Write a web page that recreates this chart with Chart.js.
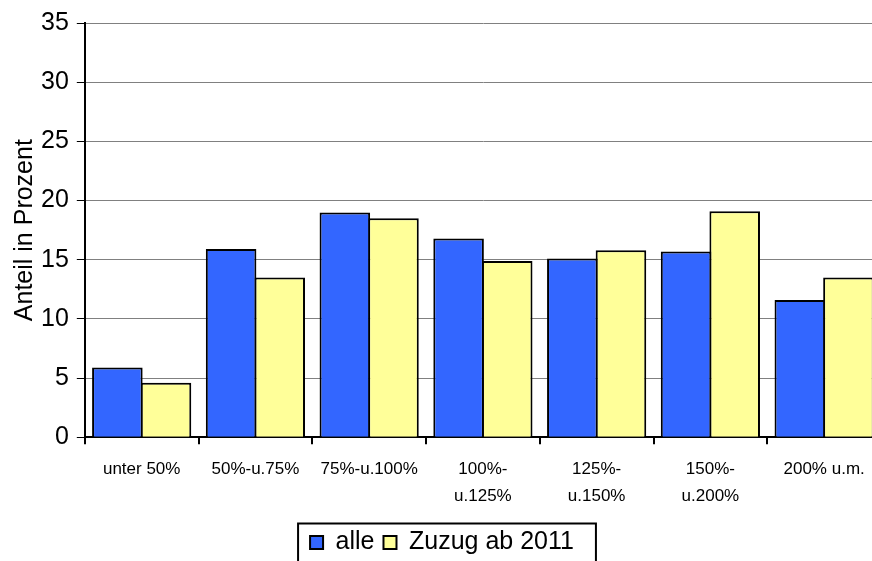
<!DOCTYPE html>
<html>
<head>
<meta charset="utf-8">
<script src="https://cdn.jsdelivr.net/npm/chart.js@4"></script>
<style>
  html, body { margin: 0; padding: 0; overflow: hidden; background: #fff; }
  #wrap { width: 895px; height: 561px; position: relative; }
</style>
</head>
<body>
<div id="wrap"><canvas id="einkommenChart"></canvas></div>
<script>
const categories = [
    "unter 50%",
    "50%-u.75%",
    "75%-u.100%",
    ["100%-", "u.125%"],
    ["125%-", "u.150%"],
    ["150%-", "u.200%"],
    "200% u.m."
];
const alle = [5.9, 15.9, 19.0, 16.8, 15.1, 15.7, 11.6];
const zuzugAb2011 = [4.6, 13.5, 18.5, 14.9, 15.8, 19.1, 13.5];

const fontFamily = "'Liberation Sans', Arial, sans-serif";

// Rahmen um die Legende
const legendFrame = {
    id: "legendFrame",
    afterDraw(chart) {
        const boxes = chart.legend.legendHitBoxes;
        if (!boxes || !boxes.length) return;
        const first = boxes[0];
        const last = boxes[boxes.length - 1];
        const x1 = first.left - 12;
        const x2 = last.left + last.width + 22;
        const y1 = first.top + first.height / 2 - 19;
        const ctx = chart.ctx;
        ctx.save();
        ctx.strokeStyle = "#000";
        ctx.lineWidth = 2;
        ctx.strokeRect(x1, y1, x2 - x1, 80);
        ctx.restore();
    }
};

new Chart(document.getElementById("einkommenChart"), {
    type: "bar",
    data: {
        labels: categories,
        datasets: [
            {
                label: "alle",
                data: alle,
                backgroundColor: "#3366FF",
                borderColor: "#000",
                borderWidth: 2
            },
            {
                label: "Zuzug ab 2011",
                data: zuzugAb2011,
                backgroundColor: "#FFFF99",
                borderColor: "#000",
                borderWidth: 2
            }
        ]
    },
    options: {
        responsive: true,
        maintainAspectRatio: false,
        animation: false,
        datasets: {
            bar: {
                categoryPercentage: 0.855,
                barPercentage: 1.04
            }
        },
        layout: {
            padding: { top: 10, right: 14, left: 3, bottom: -4 }
        },
        scales: {
            x: {
                grid: {
                    offset: true,
                    drawOnChartArea: false,
                    color: "#000",
                    lineWidth: 2,
                    tickLength: 7
                },
                border: { color: "#000", width: 2 },
                ticks: {
                    color: "#000",
                    font: { family: fontFamily, size: 17, lineHeight: 1.55 },
                    maxRotation: 0,
                    autoSkip: false,
                    padding: 12
                }
            },
            y: {
                min: 0,
                max: 35,
                ticks: {
                    stepSize: 5,
                    color: "#000",
                    font: { family: fontFamily, size: 25 },
                    padding: 8
                },
                grid: {
                    color: "#808080",
                    lineWidth: 1,
                    tickColor: "#000",
                    tickLength: 8
                },
                border: { color: "#000", width: 2 },
                title: {
                    display: true,
                    text: "Anteil in Prozent",
                    color: "#000",
                    font: { family: fontFamily, size: 25, lineHeight: 0.64 },
                    padding: { top: 14, bottom: 0 }
                }
            }
        },
        plugins: {
            legend: {
                position: "bottom",
                labels: {
                    color: "#000",
                    font: { family: fontFamily, size: 25, lineHeight: 0.72 },
                    boxWidth: 13,
                    boxHeight: 13,
                    padding: 9
                }
            },
            tooltip: { enabled: false }
        }
    },
    plugins: [legendFrame]
});
</script>
</body>
</html>
